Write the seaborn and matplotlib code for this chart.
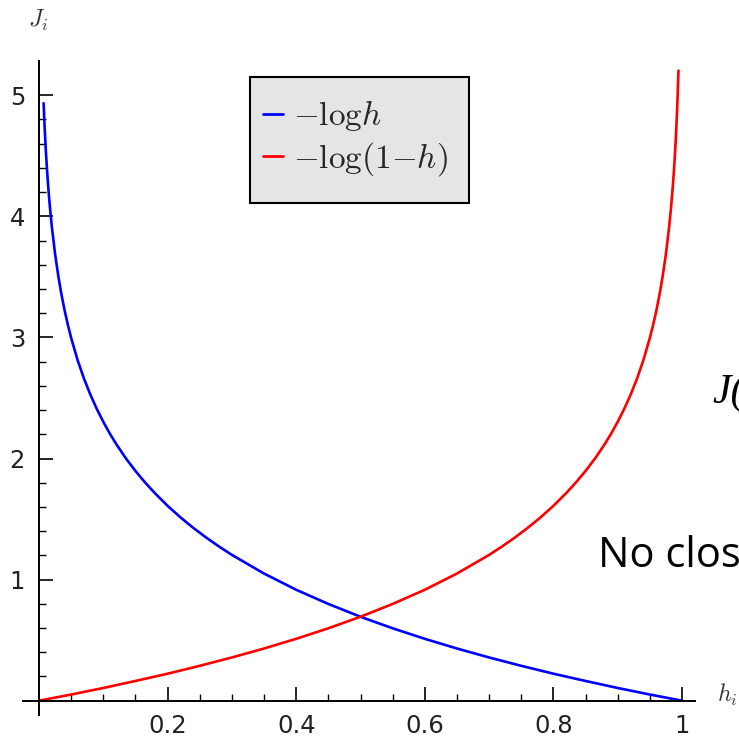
import numpy as np
import pandas as pd
import matplotlib
matplotlib.use("Agg")
import matplotlib.pyplot as plt
import seaborn as sns
from matplotlib.ticker import FixedLocator
from matplotlib.patches import Rectangle

# ---- data ----
h_blue = [0.0072, 0.0078, 0.0085, 0.009, 0.01, 0.011, 0.012, 0.013, 0.015, 0.017,
          0.02, 0.025, 0.03, 0.035, 0.04, 0.045, 0.05, 0.06, 0.07, 0.08,
          0.09, 0.10, 0.11, 0.12, 0.135, 0.15, 0.165, 0.18, 0.20, 0.22,
          0.24, 0.26, 0.28, 0.30, 0.35, 0.40, 0.45, 0.50, 0.55, 0.60,
          0.65, 0.70, 0.75, 0.80, 0.85, 0.90, 0.95, 1.00]
J_blue = [4.934, 4.854, 4.768, 4.711, 4.605, 4.510, 4.423, 4.343, 4.200, 4.075,
          3.912, 3.689, 3.507, 3.352, 3.219, 3.101, 2.996, 2.813, 2.659, 2.526,
          2.408, 2.303, 2.207, 2.120, 2.002, 1.897, 1.802, 1.715, 1.609, 1.514,
          1.427, 1.347, 1.273, 1.204, 1.050, 0.916, 0.799, 0.693, 0.598, 0.511,
          0.431, 0.357, 0.288, 0.223, 0.163, 0.105, 0.051, 0.000]
h_red = [0.00, 0.05, 0.10, 0.15, 0.20, 0.25, 0.30, 0.35, 0.40, 0.45,
         0.50, 0.55, 0.60, 0.65, 0.70, 0.72, 0.74, 0.76, 0.78, 0.80,
         0.82, 0.835, 0.85, 0.865, 0.88, 0.89, 0.90, 0.91, 0.92, 0.93,
         0.94, 0.95, 0.955, 0.96, 0.965, 0.97, 0.975, 0.98, 0.983, 0.985,
         0.987, 0.988, 0.989, 0.99, 0.991, 0.9915, 0.992, 0.993, 0.9935, 0.9945]
J_red = [0.000, 0.051, 0.105, 0.163, 0.223, 0.288, 0.357, 0.431, 0.511, 0.598,
         0.693, 0.799, 0.916, 1.050, 1.204, 1.273, 1.347, 1.427, 1.514, 1.609,
         1.715, 1.802, 1.897, 2.002, 2.120, 2.207, 2.303, 2.408, 2.526, 2.659,
         2.813, 2.996, 3.101, 3.219, 3.352, 3.507, 3.689, 3.912, 4.075, 4.200,
         4.343, 4.423, 4.510, 4.605, 4.711, 4.768, 4.828, 4.962, 5.036, 5.203]
series_labels = [r"$-\mathrm{log}h$", r"$-\mathrm{log}(1{-}h)$"]
series_colors = ["#0000ff", "#ff0000"]
x_major = [0.2, 0.4, 0.6, 0.8, 1.0]
x_major_labels = ["0.2", "0.4", "0.6", "0.8", "1"]
x_minor = [0.05, 0.10, 0.15, 0.25, 0.30, 0.35, 0.45, 0.50, 0.55, 0.65, 0.70, 0.75,
           0.85, 0.90, 0.95]
y_major = [1, 2, 3, 4, 5]
y_major_labels = ["1", "2", "3", "4", "5"]
y_minor = [0.2, 0.4, 0.6, 0.8, 1.2, 1.4, 1.6, 1.8, 2.2, 2.4, 2.6, 2.8,
           3.2, 3.4, 3.6, 3.8, 4.2, 4.4, 4.6, 4.8]

sns.set_style("white")
plt.rcParams["font.family"] = ["DejaVu Sans"]
plt.rcParams["mathtext.fontset"] = "cm"

W, H = 739, 738
fig = plt.figure(figsize=(W / 100, H / 100), dpi=100)
ax = fig.add_axes([0, 0, 1, 1])
ax.set_facecolor("none")

# pixel mapping: h=0 -> x 39px, 643 px per unit ; J=0 -> y 700.7px (from top), 121.1 px per unit
x0, sx = 39.0, 643.0
y0, sy = 700.7, 121.1
ax.set_xlim(-x0 / sx, (W - x0) / sx)
ax.set_ylim(-(H - y0) / sy, y0 / sy)

df_b = pd.DataFrame({"h": h_blue, "J": J_blue, "s": series_labels[0]})
df_r = pd.DataFrame({"h": h_red, "J": J_red, "s": series_labels[1]})
df = pd.concat([df_b, df_r], ignore_index=True)
sns.lineplot(data=df, x="h", y="J", hue="s", palette=dict(zip(series_labels, series_colors)),
             sort=False, estimator=None, linewidth=1.9, ax=ax)
for ln in ax.get_lines():
    ln.set_solid_joinstyle("round")

# axes crossing at origin
for side in ["top", "right"]:
    ax.spines[side].set_visible(False)
ax.spines["left"].set_position(("data", 0))
ax.spines["bottom"].set_position(("data", 0))
ax.spines["left"].set_bounds(-(715 - y0) / sy, (y0 - 61) / sy)
ax.spines["bottom"].set_bounds(-(x0 - 23) / sx, (695 - x0) / sx)
for side in ["left", "bottom"]:
    ax.spines[side].set_linewidth(1.4)
    ax.spines[side].set_color("black")

ax.xaxis.set_major_locator(FixedLocator(x_major))
ax.set_xticklabels(x_major_labels)
ax.xaxis.set_minor_locator(FixedLocator(x_minor))
ax.yaxis.set_major_locator(FixedLocator(y_major))
ax.set_yticklabels(y_major_labels)
ax.yaxis.set_minor_locator(FixedLocator(y_minor))
ax.tick_params(which="both", bottom=True, left=True, top=False, right=False)
ax.tick_params(which="major", direction="in", length=10, width=1.2, color="black",
               labelsize=17.5, labelcolor="#222222")
ax.tick_params(which="minor", direction="in", length=5, width=1.0, color="black")
ax.tick_params(axis="x", which="major", pad=9.5)
ax.tick_params(axis="y", which="major", pad=10)
ax.set_xlabel("")
ax.set_ylabel("")

# axis labels
fig.text(38 / W, 1 - 20 / H, r"$J_i$", fontsize=17, ha="center", va="center", color="#333333")
fig.text(717 / W, 1 - 702 / H, r"$h_i$", fontsize=17, ha="left", va="baseline", color="#333333")

# legend frame (grey box with black edge) and legend entries
frame = Rectangle((250 / W, 1 - 203 / H), 219 / W, 126 / H, transform=fig.transFigure,
                  facecolor="#e5e5e5", edgecolor="black", linewidth=1.5, zorder=-1)
fig.patches.append(frame)
leg = ax.legend(loc="upper left", bbox_to_anchor=(250 / W, 1 - 85 / H),
                bbox_transform=fig.transFigure, fontsize=24, frameon=False,
                handlelength=0.6, handletextpad=0.3, labelspacing=0.2,
                borderpad=0.4, borderaxespad=0)
for line in leg.get_lines():
    line.set_linewidth(2.0)

# stray slide text cut by the right edge
fig.text(712 / W, 1 - 403 / H, "J(", fontsize=30, family="Liberation Serif",
         style="italic", ha="left", va="baseline", color="black")
fig.text(598 / W, 1 - 567 / H, "No closed", fontsize=30, family="Open Sans",
         ha="left", va="baseline", color="black")

fig.savefig("out.png", dpi=100)
